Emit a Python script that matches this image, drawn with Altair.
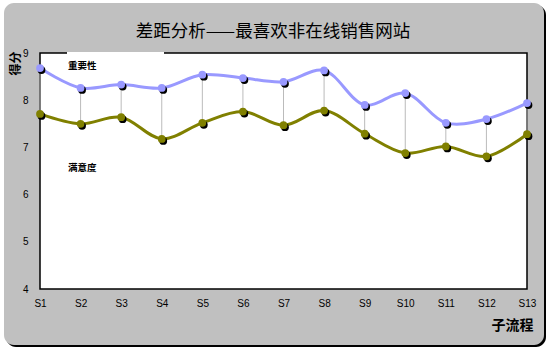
import altair as alt
import pandas as pd

title_text = "差距分析——最喜欢非在线销售网站"
steps = ["S1", "S2", "S3", "S4", "S5", "S6", "S7", "S8", "S9", "S10", "S11", "S12", "S13"]
importance = [8.68, 8.26, 8.33, 8.26, 8.54, 8.47, 8.39, 8.63, 7.90, 8.15, 7.52, 7.60, 7.94]
satisfaction = [7.71, 7.50, 7.64, 7.18, 7.52, 7.76, 7.47, 7.78, 7.29, 6.88, 7.02, 6.81, 7.28]
series_names = ["重要性", "满意度"]
series_colors = ["#9999FF", "#808000"]
label_y = [8.73, 6.57]

W, H = 487, 236
CJK = "Noto Sans CJK SC"
LAT = "Liberation Sans"

long = pd.DataFrame(
    [{"step": s, "series": series_names[0], "v": v} for s, v in zip(steps, importance)]
    + [{"step": s, "series": series_names[1], "v": v} for s, v in zip(steps, satisfaction)]
)
gap = pd.DataFrame({"step": steps, "hi": importance, "lo": satisfaction})
labels = pd.DataFrame({"step": [steps[0]] * 2, "v": label_y, "t": series_names})

xs = alt.Scale(type="point", domain=steps, padding=0)
ys = alt.Scale(domain=[4, 9])
color = alt.Color("series:N", scale=alt.Scale(domain=series_names, range=series_colors), legend=None)

xaxis = alt.Axis(
    title="子流程", labelAngle=0, ticks=False, domain=False, grid=False,
    labelFont=LAT, labelFontSize=10, labelColor="black", labelPadding=9,
    titleFont=CJK, titleFontSize=14, titleFontWeight="bold", titleColor="black",
    titleX=W + 6, titleY=40, titleAlign="right", titleBaseline="alphabetic", zindex=1,
)
yaxis = alt.Axis(
    title="得分", values=[4, 5, 6, 7, 8, 9], ticks=False, domain=False, grid=False,
    labelFont=LAT, labelFontSize=10, labelColor="black", labelPadding=12,
    titleFont=CJK, titleFontSize=12, titleFontWeight="bold", titleColor="black",
    titleX=-25, titleY=10, titleAlign="center", titleBaseline="middle", zindex=1,
)

base_deco = alt.Chart(pd.DataFrame({"d": [0]}))
shadow_panel = base_deco.mark_rect(fill="black", cornerRadius=10, clip=False).encode(
    x=alt.value(-34), x2=alt.value(506), y=alt.value(-48), y2=alt.value(294)
)
panel = base_deco.mark_rect(fill="#C0C0C0", cornerRadius=10, clip=False).encode(
    x=alt.value(-36), x2=alt.value(504), y=alt.value(-50), y2=alt.value(292)
)
plot_bg = base_deco.mark_rect(fill="white", stroke="black", strokeWidth=1.5).encode(
    x=alt.value(0), x2=alt.value(W), y=alt.value(0), y2=alt.value(H)
)
white_seg = base_deco.mark_rule(color="white", strokeWidth=2).encode(
    x=alt.value(27), x2=alt.value(124), y=alt.value(0)
)
title_mark = alt.Chart(pd.DataFrame({"t": [title_text]})).mark_text(
    font=CJK, fontSize=17.5, color="black", align="center", baseline="middle"
).encode(x=alt.value(233), y=alt.value(-21), text="t:N")

rules = alt.Chart(gap).mark_rule(color="#BBBBBB", strokeWidth=1).encode(
    x=alt.X("step:N", scale=xs, axis=xaxis, sort=steps),
    y=alt.Y("hi:Q", scale=ys, axis=yaxis),
    y2="lo:Q",
)
lines = alt.Chart(long).mark_line(strokeWidth=3, interpolate="catmull-rom").encode(
    x=alt.X("step:N", scale=xs, sort=steps), y=alt.Y("v:Q", scale=ys), color=color
)
shadows = alt.Chart(long).mark_circle(size=60, opacity=1, color="black", xOffset=1.5, yOffset=2).encode(
    x=alt.X("step:N", scale=xs, sort=steps), y=alt.Y("v:Q", scale=ys)
)
dots = alt.Chart(long).mark_circle(size=60, opacity=1).encode(
    x=alt.X("step:N", scale=xs, sort=steps), y=alt.Y("v:Q", scale=ys), color=color
)
texts = alt.Chart(labels).mark_text(
    align="left", baseline="middle", dx=28, font=CJK, fontSize=9.5, fontWeight="bold", color="black"
).encode(x=alt.X("step:N", scale=xs, sort=steps), y=alt.Y("v:Q", scale=ys), text="t:N")

chart = alt.layer(
    shadow_panel, panel, title_mark, plot_bg, white_seg, rules, lines, shadows, dots, texts
).properties(
    width=W, height=H,
    autosize=alt.AutoSizeParams(type="none"),
    padding={"left": 40, "top": 53, "right": 23, "bottom": 63},
    background="white",
).configure_view(stroke=None)

chart.save("out.html", embed_options={"renderer": "svg", "actions": False})
